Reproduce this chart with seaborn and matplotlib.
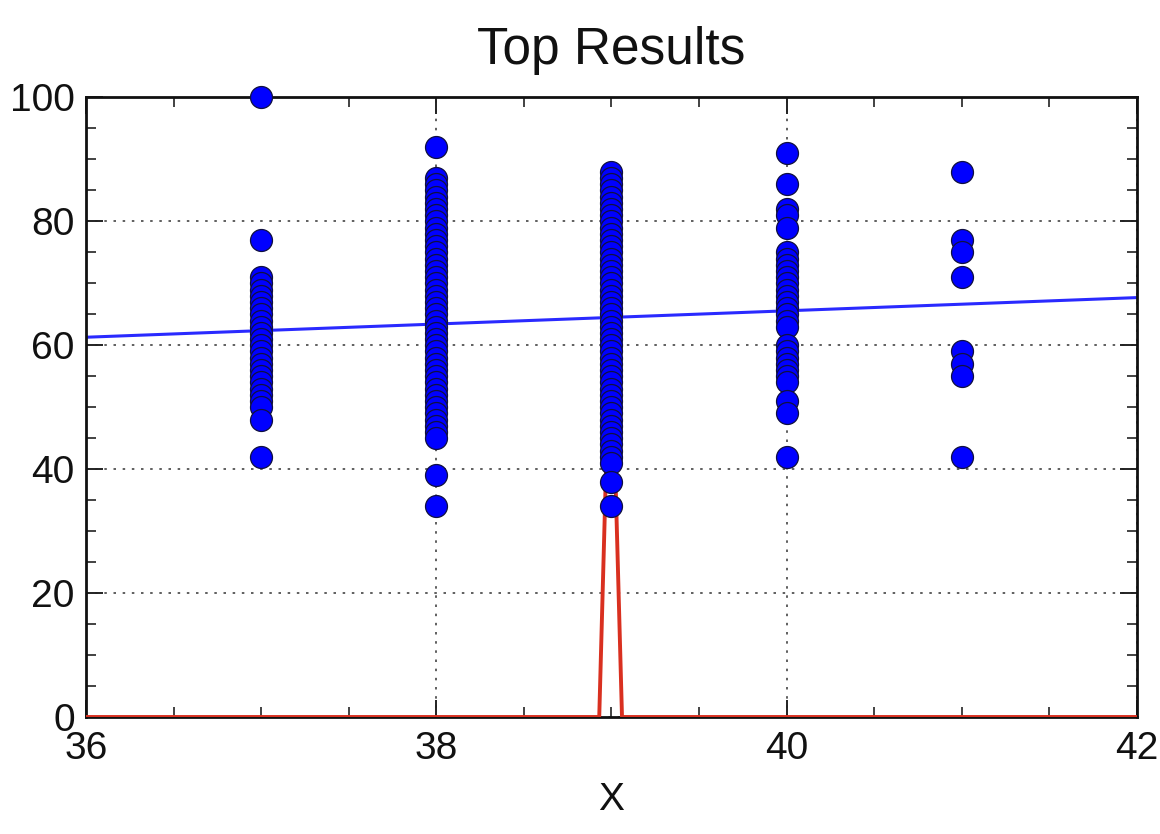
import matplotlib
matplotlib.use("Agg")
import matplotlib.pyplot as plt
import seaborn as sns
import pandas as pd
from matplotlib.ticker import MultipleLocator

# ---- data ----
x37 = [100, 77, 71, 70, 69, 68, 67, 66, 65, 64, 63, 62, 61, 60, 59, 58, 57, 56,
       55, 54, 53, 52, 51, 50, 48, 42]
x38 = [92, 87, 86, 85, 84, 83, 82, 81, 80, 79, 78, 77, 76, 75, 74, 73, 72, 71,
       70, 69, 68, 67, 66, 65, 64, 63, 62, 61, 60, 59, 58, 57, 56, 55, 54, 53,
       52, 51, 50, 49, 48, 47, 46, 45, 39, 34]
x39 = [88, 87, 86, 85, 84, 83, 82, 81, 80, 79, 78, 77, 76, 75, 74, 73, 72, 71,
       70, 69, 68, 67, 66, 65, 64, 63, 62, 61, 60, 59, 58, 57, 56, 55, 54, 53,
       52, 51, 50, 49, 48, 47, 46, 45, 44, 43, 42, 41, 38, 34]
x40 = [91, 86, 82, 81, 79, 75, 74, 73, 72, 71, 70, 69, 68, 67, 66, 65, 64, 63,
       60, 59, 58, 57, 56, 55, 54, 51, 49, 42]
x41 = [88, 77, 75, 71, 59, 57, 55, 42]
groups = {37: x37, 38: x38, 39: x39, 40: x40, 41: x41}

fit_x = [36, 42]
fit_y = [61.3, 67.7]

peak_x = [36, 38.93, 38.995, 39.06, 42]
peak_y = [0, 0, 67, 0, 0]

title = "Top Results"
xlabel = "X"
xticks = [36, 38, 40, 42]
yticks = [0, 20, 40, 60, 80, 100]

rows = [(k, v) for k, vals in groups.items() for v in vals]
df = pd.DataFrame(rows, columns=["x", "y"])
fit_df = pd.DataFrame({"x": fit_x, "y": fit_y})
peak_df = pd.DataFrame({"x": peak_x, "y": peak_y})

sns.set_style("white")
plt.rcParams["font.family"] = ["Liberation Sans", "DejaVu Sans"]

fig = plt.figure(figsize=(11.6, 8.34), dpi=100)
ax = fig.add_axes([0.0741, 0.1403, 0.9061, 0.7428])

sns.lineplot(data=fit_df, x="x", y="y", ax=ax, color="#2a2aff", lw=2.2, zorder=2)
sns.lineplot(data=peak_df, x="x", y="y", ax=ax, color="#d93020", lw=2.8, zorder=3)
sns.scatterplot(data=df, x="x", y="y", ax=ax, color="#0000ff", s=250,
                edgecolor="#101040", linewidth=0.9, zorder=4, clip_on=False)

ax.set_xlim(36, 42)
ax.set_ylim(0, 100)
ax.set_xticks(xticks)
ax.set_yticks(yticks)
ax.xaxis.set_minor_locator(MultipleLocator(0.5))
ax.yaxis.set_minor_locator(MultipleLocator(5))
ax.tick_params(which="both", direction="in", top=True, right=True,
               bottom=True, left=True, colors="#222222", labelcolor="#111111")
ax.tick_params(which="major", length=12, width=1.4)
ax.tick_params(which="minor", length=7, width=1.2)
ax.tick_params(axis="x", which="major", labelsize=28, pad=10)
ax.tick_params(axis="y", which="major", labelsize=28, pad=8)
ax.grid(True, which="major", linestyle=(0, (1.5, 4)), color="#444444", lw=1.2)
for sp in ax.spines.values():
    sp.set_visible(True)
    sp.set_color("#111111")
    sp.set_linewidth(2)

ax.set_title(title, fontsize=37, pad=24, color="#111111")
ax.set_xlabel(xlabel, fontsize=28, labelpad=11, color="#111111")
ax.set_ylabel("")

fig.savefig("out.png", dpi=100)
